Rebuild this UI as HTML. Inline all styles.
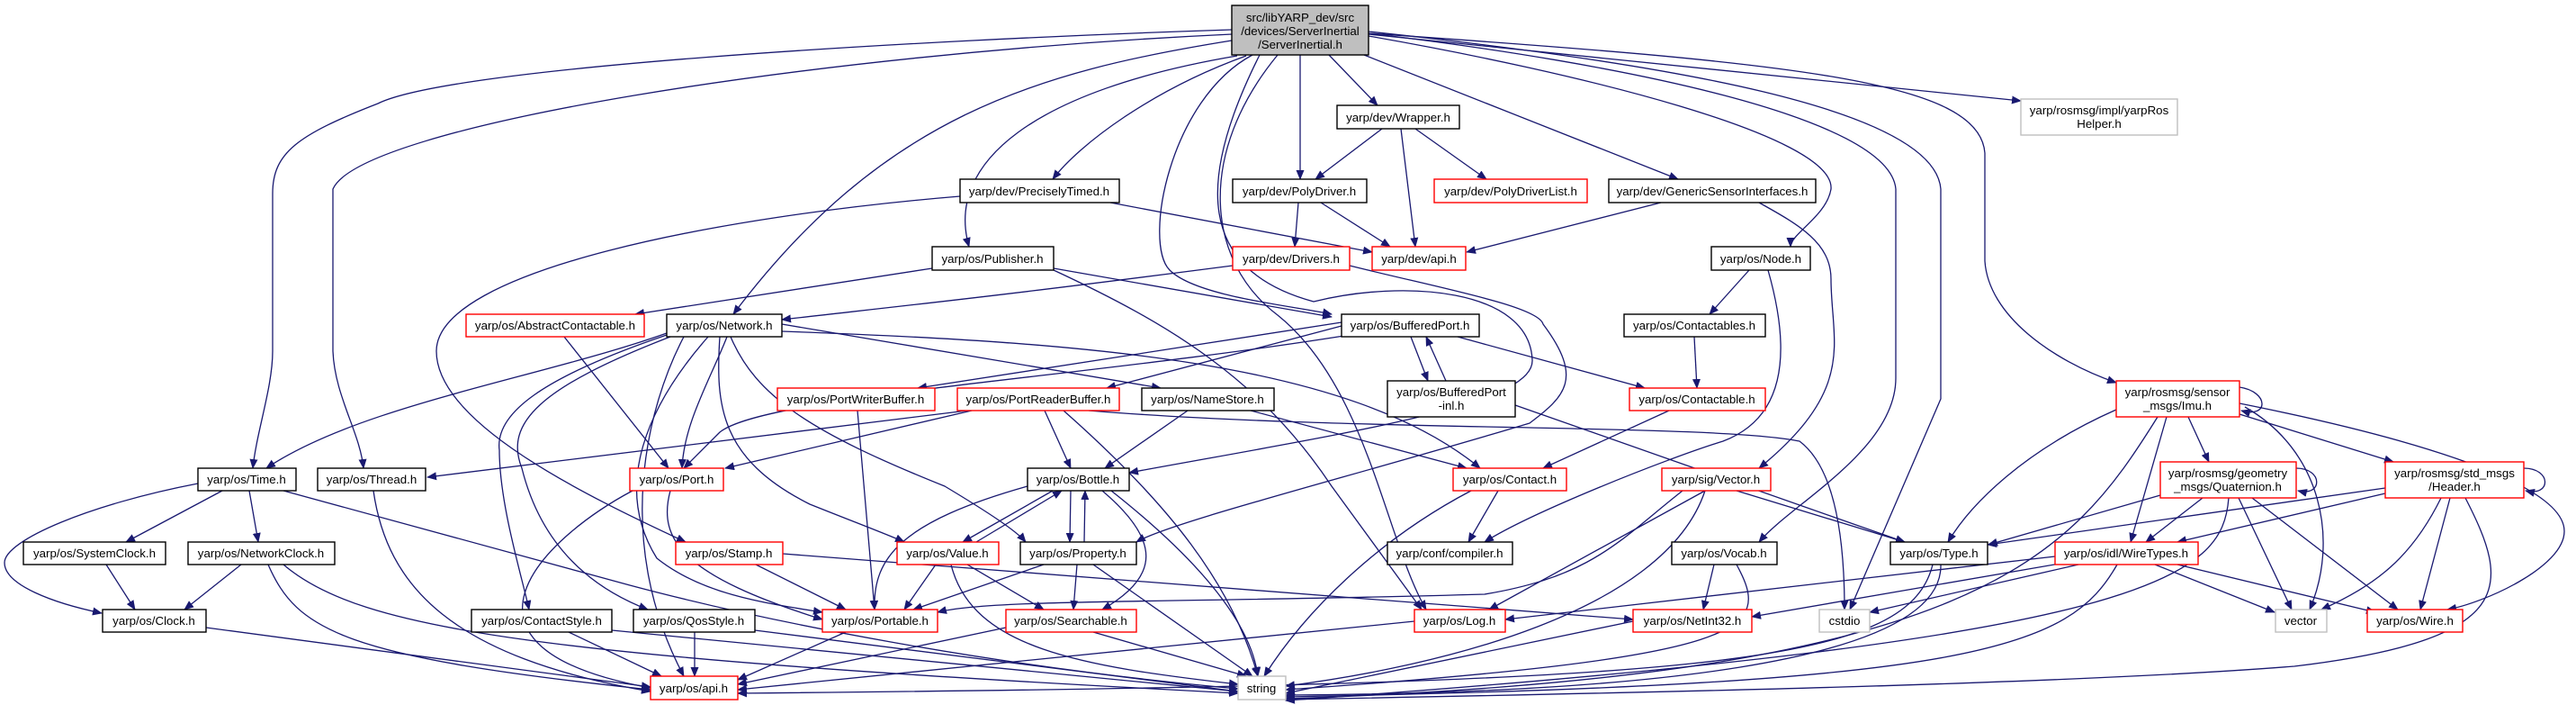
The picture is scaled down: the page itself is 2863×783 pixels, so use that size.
<!DOCTYPE html>
<html><head><meta charset="utf-8"><style>
html,body{margin:0;padding:0;background:#fff;}
svg{display:block;}
text{font-family:"Liberation Sans",Arial,sans-serif;font-size:13.3px;fill:#000;text-anchor:middle;}
.e{fill:none;stroke:#191970;stroke-width:1.3;marker-end:url(#a);}
.b{fill:#fff;stroke:#000;stroke-width:1.4;}
.r{fill:#fff;stroke:#ff0000;stroke-width:1.4;}
.g{fill:#fff;stroke:#bfbfbf;stroke-width:1.4;}
</style></head><body>
<svg width="2863" height="783" viewBox="0 0 2863 783" xmlns="http://www.w3.org/2000/svg">
<defs><marker id="a" markerWidth="11" markerHeight="9" refX="10" refY="4.5" orient="auto" markerUnits="userSpaceOnUse"><path d="M0,0 L11,4.5 L0,9 z" fill="#191970"/></marker></defs>
<g>
<!-- S edges -->
<path class="e" d="M1369,33 C1000,45 500,75 420,115 C330,150 303,170 303,215 L303,390 C303,430 285,480 281,520"/>
<path class="e" d="M1369,38 C900,60 400,140 370,210 L370,390 C372,440 400,480 404,520"/>
<path class="e" d="M1369,45 C1150,80 980,130 815,349"/>
<path class="e" d="M1375,62 C1150,100 1050,180 1077,274"/>
<path class="e" d="M1385,62 C1280,100 1200,160 1170,199"/>
<path class="e" d="M1392,61 C1300,110 1270,270 1300,300 C1330,330 1440,340 1480,349"/>
<path class="e" d="M1420,61 C1330,170 1340,290 1420,350 C1520,430 1540,600 1585,677"/>
<path class="e" d="M1400,61 C1330,200 1330,300 1460,335 C1560,310 1700,320 1703,400 C1705,450 1500,480 1255,525"/>
<path class="e" d="M1445,61 L1445,199"/>
<path class="e" d="M1477,61 L1531,117"/>
<path class="e" d="M1516,61 L1865,199"/>
<path class="e" d="M1521,40 C1750,80 2040,150 2035,210 C2030,240 1990,260 1990,274"/>
<path class="e" d="M1521,37 C1800,70 2100,130 2107,210 L2107,420 C2107,500 1990,560 1955,602"/>
<path class="e" d="M1521,35 C1850,70 2150,120 2157,210 L2157,443 L2056,677"/>
<path class="e" d="M1521,38 L2246,112"/>
<path class="e" d="M1521,37 C2000,70 2200,90 2206,170 L2206,290 C2210,350 2280,400 2352,425"/>
<!-- others -->
<path class="e" d="M1536,143 L1462,199"/>
<path class="e" d="M1557,143 L1573,274"/>
<path class="e" d="M1573,143 L1652,199"/>
<path class="e" d="M1234,225 L1525,280"/>
<path class="e" d="M1067,218 C800,240 485,300 485,390 C485,470 650,550 762,602"/>
<path class="e" d="M1443,225 L1439,274"/>
<path class="e" d="M1468,225 L1545,274"/>
<path class="e" d="M1846,225 L1630,280"/>
<path class="e" d="M1955,225 C2000,250 2035,270 2035,310 C2035,380 2065,430 1955,520"/>
<path class="e" d="M1036,298 L706,349"/>
<path class="e" d="M1171,298 L1480,352"/>
<path class="e" d="M1171,300 C1300,360 1400,420 1480,540 L1580,677"/>
<path class="e" d="M1370,295 C1100,330 1000,340 869,355"/>
<path class="e" d="M1500,295 C1600,320 1710,340 1715,360 C1760,420 1740,440 1700,470 C1500,530 1300,580 1263,602"/>
<path class="e" d="M1944,300 L1900,349"/>
<path class="e" d="M1965,300 C1985,370 1995,460 1915,490 C1850,510 1700,570 1650,602"/>
<path class="e" d="M1883,374 L1886,431"/>
<path class="e" d="M627,374 L743,520"/>
<path class="e" d="M741,370 C600,420 400,450 296,520"/>
<path class="e" d="M808,374 C790,420 760,470 758,520"/>
<path class="e" d="M741,372 C600,420 550,460 555,500 C555,560 580,640 588,677"/>
<path class="e" d="M745,374 C600,430 560,470 580,520 C600,600 650,650 720,677"/>
<path class="e" d="M787,374 C720,450 680,540 730,620 C780,660 850,670 914,680"/>
<path class="e" d="M800,374 C795,450 800,510 900,560 C950,580 990,595 1005,602"/>
<path class="e" d="M812,374 C840,440 900,480 1050,540 C1100,570 1130,590 1140,602"/>
<path class="e" d="M869,360 L1290,431"/>
<path class="e" d="M869,368 C1200,380 1500,400 1645,520"/>
<path class="e" d="M760,374 C720,450 680,600 760,751"/>
<path class="e" d="M1491,358 L1020,431"/>
<path class="e" d="M1491,362 L1230,431"/>
<path class="e" d="M1500,372 C1200,420 850,440 800,480 L760,520"/>
<path class="e" d="M1080,456 L806,520"/>
<path class="e" d="M1075,456 L475,530"/>
<path class="e" d="M1568,374 L1587,423"/>
<path class="e" d="M1607,423 L1585,374"/>
<path class="e" d="M1620,374 L1828,431"/>
<path class="e" d="M1684,450 L2117,602"/>
<path class="e" d="M953,456 L972,677"/>
<path class="e" d="M1161,456 L1190,520"/>
<path class="e" d="M1182,456 C1300,560 1370,650 1398,751"/>
<path class="e" d="M1210,456 C1500,480 1900,470 2000,490 C2040,520 2050,600 2050,677"/>
<path class="e" d="M1320,456 L1228,520"/>
<path class="e" d="M1390,456 L1630,520"/>
<path class="e" d="M1855,456 L1715,520"/>
<path class="e" d="M247,545 L140,602"/>
<path class="e" d="M277,545 L287,602"/>
<path class="e" d="M220,537 C100,560 5,600 5,625 C5,650 60,670 113,681"/>
<path class="e" d="M315,545 L700,650 C850,690 1100,740 1376,765"/>
<path class="e" d="M118,627 L150,677"/>
<path class="e" d="M268,627 L205,677"/>
<path class="e" d="M298,627 C330,700 380,730 723,766"/>
<path class="e" d="M315,627 C400,700 600,730 1376,770"/>
<path class="e" d="M415,545 C430,650 500,730 723,768"/>
<path class="e" d="M229,697 L723,763"/>
<path class="e" d="M703,545 C600,600 480,720 723,764"/>
<path class="e" d="M745,545 C730,600 760,640 914,688"/>
<path class="e" d="M632,702 L735,751"/>
<path class="e" d="M680,700 L1376,768"/>
<path class="e" d="M772,702 L772,751"/>
<path class="e" d="M839,700 L1376,768"/>
<path class="e" d="M840,627 L940,677"/>
<path class="e" d="M870,615 L1815,688"/>
<path class="e" d="M940,702 L820,755"/>
<path class="e" d="M1170,545 L1070,602"/>
<path class="e" d="M1085,602 L1180,545"/>
<path class="e" d="M1190,545 L1189,602"/>
<path class="e" d="M1205,602 L1206,545"/>
<path class="e" d="M1142,540 C1000,580 970,620 972,677"/>
<path class="e" d="M1225,545 C1290,600 1290,640 1225,677"/>
<path class="e" d="M1235,545 C1330,620 1390,690 1398,751"/>
<path class="e" d="M1040,627 L1005,677"/>
<path class="e" d="M1075,627 L1160,677"/>
<path class="e" d="M1057,627 C1080,720 1200,740 1376,760"/>
<path class="e" d="M1160,627 L1015,677"/>
<path class="e" d="M1197,627 L1193,677"/>
<path class="e" d="M1215,627 L1392,751"/>
<path class="e" d="M1118,697 L820,760"/>
<path class="e" d="M1215,702 L1385,751"/>
<path class="e" d="M1665,545 L1632,602"/>
<path class="e" d="M1635,545 C1530,600 1450,680 1405,751"/>
<path class="e" d="M1930,545 L2117,602"/>
<path class="e" d="M1895,545 L1655,677"/>
<path class="e" d="M1870,545 C1800,600 1770,640 1650,660 C1300,670 1100,665 1042,680"/>
<path class="e" d="M1895,545 C1850,680 1600,740 1429,762"/>
<path class="e" d="M1572,690 L820,766"/>
<path class="e" d="M1905,627 L1893,677"/>
<path class="e" d="M1930,627 C1970,700 1950,730 1429,766"/>
<path class="e" d="M1815,690 L1429,770"/>
<path class="e" d="M2148,627 C2120,740 1900,760 820,770"/>
<path class="e" d="M2157,627 C2160,740 1800,770 1429,772"/>
<path class="e" d="M2284,618 L1673,688"/>
<path class="e" d="M2295,625 L1947,685"/>
<path class="e" d="M2310,627 L2078,680"/>
<path class="e" d="M2395,627 L2528,680"/>
<path class="e" d="M2420,627 L2640,680"/>
<path class="e" d="M2353,627 C2300,720 2200,760 1429,774"/>
<path class="e" d="M2489,430 C2522,435 2522,465 2491,456"/>
<path class="e" d="M2352,455 C2250,500 2190,560 2165,602"/>
<path class="e" d="M2408,463 L2368,602"/>
<path class="e" d="M2432,463 L2455,513"/>
<path class="e" d="M2489,460 L2660,513"/>
<path class="e" d="M2495,452 C2580,500 2600,600 2567,677"/>
<path class="e" d="M2489,448 C2700,490 2850,540 2850,590 C2850,630 2760,670 2720,677"/>
<path class="e" d="M2398,463 C2300,620 2200,750 1429,776"/>
<path class="e" d="M2552,520 C2582,520 2582,552 2554,545"/>
<path class="e" d="M2401,550 L2210,605"/>
<path class="e" d="M2448,553 L2385,602"/>
<path class="e" d="M2488,553 L2547,677"/>
<path class="e" d="M2503,553 L2665,677"/>
<path class="e" d="M2477,553 C2470,640 2400,710 1429,778"/>
<path class="e" d="M2805,520 C2836,520 2836,552 2807,545"/>
<path class="e" d="M2651,542 L2209,605"/>
<path class="e" d="M2651,548 L2420,602"/>
<path class="e" d="M2713,553 C2680,620 2640,650 2580,677"/>
<path class="e" d="M2723,553 L2690,677"/>
<path class="e" d="M2740,553 C2790,650 2800,710 2550,740 C2300,760 1800,770 1429,777"/>
</g>
<g>
<rect x="1369" y="6" width="152" height="55" fill="#bfbfbf" stroke="#000" stroke-width="1.4"/>
<text x="1445" y="24">src/libYARP_dev/src</text><text x="1445" y="39">/devices/ServerInertial</text><text x="1445" y="54">/ServerInertial.h</text>
<rect class="b" x="1486" y="117" width="136" height="26"/><text x="1554" y="135">yarp/dev/Wrapper.h</text>
<rect class="g" x="2246" y="110" width="174" height="40"/><text x="2333" y="127">yarp/rosmsg/impl/yarpRos</text><text x="2333" y="142">Helper.h</text>
<rect class="b" x="1067" y="199" width="177" height="26"/><text x="1155" y="217">yarp/dev/PreciselyTimed.h</text>
<rect class="b" x="1370" y="199" width="149" height="26"/><text x="1444" y="217">yarp/dev/PolyDriver.h</text>
<rect class="r" x="1594" y="199" width="170" height="26"/><text x="1679" y="217">yarp/dev/PolyDriverList.h</text>
<rect class="b" x="1788" y="199" width="230" height="26"/><text x="1903" y="217">yarp/dev/GenericSensorInterfaces.h</text>
<rect class="b" x="1036" y="274" width="135" height="26"/><text x="1103" y="292">yarp/os/Publisher.h</text>
<rect class="r" x="1370" y="274" width="130" height="26"/><text x="1435" y="292">yarp/dev/Drivers.h</text>
<rect class="r" x="1525" y="274" width="104" height="26"/><text x="1577" y="292">yarp/dev/api.h</text>
<rect class="b" x="1902" y="274" width="110" height="26"/><text x="1957" y="292">yarp/os/Node.h</text>
<rect class="r" x="518" y="349" width="198" height="25"/><text x="617" y="366">yarp/os/AbstractContactable.h</text>
<rect class="b" x="741" y="349" width="128" height="25"/><text x="805" y="366">yarp/os/Network.h</text>
<rect class="b" x="1491" y="349" width="153" height="25"/><text x="1567" y="366">yarp/os/BufferedPort.h</text>
<rect class="b" x="1805" y="349" width="157" height="25"/><text x="1883" y="366">yarp/os/Contactables.h</text>
<rect class="r" x="864" y="431" width="175" height="25"/><text x="951" y="448">yarp/os/PortWriterBuffer.h</text>
<rect class="r" x="1064" y="431" width="180" height="25"/><text x="1154" y="448">yarp/os/PortReaderBuffer.h</text>
<rect class="b" x="1269" y="431" width="147" height="25"/><text x="1342" y="448">yarp/os/NameStore.h</text>
<rect class="b" x="1542" y="423" width="142" height="40"/><text x="1613" y="440">yarp/os/BufferedPort</text><text x="1613" y="455">-inl.h</text>
<rect class="r" x="1811" y="431" width="151" height="25"/><text x="1886" y="448">yarp/os/Contactable.h</text>
<rect class="r" x="2352" y="423" width="137" height="40"/><text x="2420" y="440">yarp/rosmsg/sensor</text><text x="2420" y="455">_msgs/Imu.h</text>
<rect class="b" x="220" y="520" width="109" height="25"/><text x="274" y="537">yarp/os/Time.h</text>
<rect class="b" x="353" y="520" width="120" height="25"/><text x="413" y="537">yarp/os/Thread.h</text>
<rect class="r" x="700" y="520" width="104" height="25"/><text x="752" y="537">yarp/os/Port.h</text>
<rect class="b" x="1142" y="520" width="113" height="25"/><text x="1198" y="537">yarp/os/Bottle.h</text>
<rect class="r" x="1615" y="520" width="126" height="25"/><text x="1678" y="537">yarp/os/Contact.h</text>
<rect class="r" x="1847" y="520" width="121" height="25"/><text x="1907" y="537">yarp/sig/Vector.h</text>
<rect class="r" x="2401" y="513" width="151" height="40"/><text x="2476" y="530">yarp/rosmsg/geometry</text><text x="2476" y="545">_msgs/Quaternion.h</text>
<rect class="r" x="2651" y="513" width="154" height="40"/><text x="2728" y="530">yarp/rosmsg/std_msgs</text><text x="2728" y="545">/Header.h</text>
<rect class="b" x="26" y="602" width="158" height="25"/><text x="105" y="619">yarp/os/SystemClock.h</text>
<rect class="b" x="209" y="602" width="163" height="25"/><text x="290" y="619">yarp/os/NetworkClock.h</text>
<rect class="r" x="751" y="602" width="119" height="25"/><text x="810" y="619">yarp/os/Stamp.h</text>
<rect class="r" x="997" y="602" width="113" height="25"/><text x="1053" y="619">yarp/os/Value.h</text>
<rect class="b" x="1134" y="602" width="129" height="25"/><text x="1198" y="619">yarp/os/Property.h</text>
<rect class="b" x="1542" y="602" width="139" height="25"/><text x="1611" y="619">yarp/conf/compiler.h</text>
<rect class="b" x="1858" y="602" width="117" height="25"/><text x="1916" y="619">yarp/os/Vocab.h</text>
<rect class="b" x="2101" y="602" width="108" height="25"/><text x="2155" y="619">yarp/os/Type.h</text>
<rect class="r" x="2284" y="602" width="159" height="25"/><text x="2363" y="619">yarp/os/idl/WireTypes.h</text>
<rect class="b" x="114" y="677" width="115" height="25"/><text x="171" y="694">yarp/os/Clock.h</text>
<rect class="b" x="524" y="677" width="156" height="25"/><text x="602" y="694">yarp/os/ContactStyle.h</text>
<rect class="b" x="704" y="677" width="135" height="25"/><text x="771" y="694">yarp/os/QosStyle.h</text>
<rect class="r" x="914" y="677" width="128" height="25"/><text x="978" y="694">yarp/os/Portable.h</text>
<rect class="r" x="1118" y="677" width="145" height="25"/><text x="1190" y="694">yarp/os/Searchable.h</text>
<rect class="r" x="1572" y="677" width="101" height="25"/><text x="1622" y="694">yarp/os/Log.h</text>
<rect class="r" x="1815" y="677" width="132" height="25"/><text x="1881" y="694">yarp/os/NetInt32.h</text>
<rect class="g" x="2022" y="677" width="56" height="25"/><text x="2050" y="694">cstdio</text>
<rect class="g" x="2529" y="677" width="57" height="25"/><text x="2557" y="694">vector</text>
<rect class="r" x="2631" y="677" width="106" height="25"/><text x="2684" y="694">yarp/os/Wire.h</text>
<rect class="r" x="723" y="751" width="97" height="26"/><text x="771" y="769">yarp/os/api.h</text>
<rect class="g" x="1376" y="751" width="53" height="26"/><text x="1402" y="769">string</text>
</g>
</svg>
</body></html>
